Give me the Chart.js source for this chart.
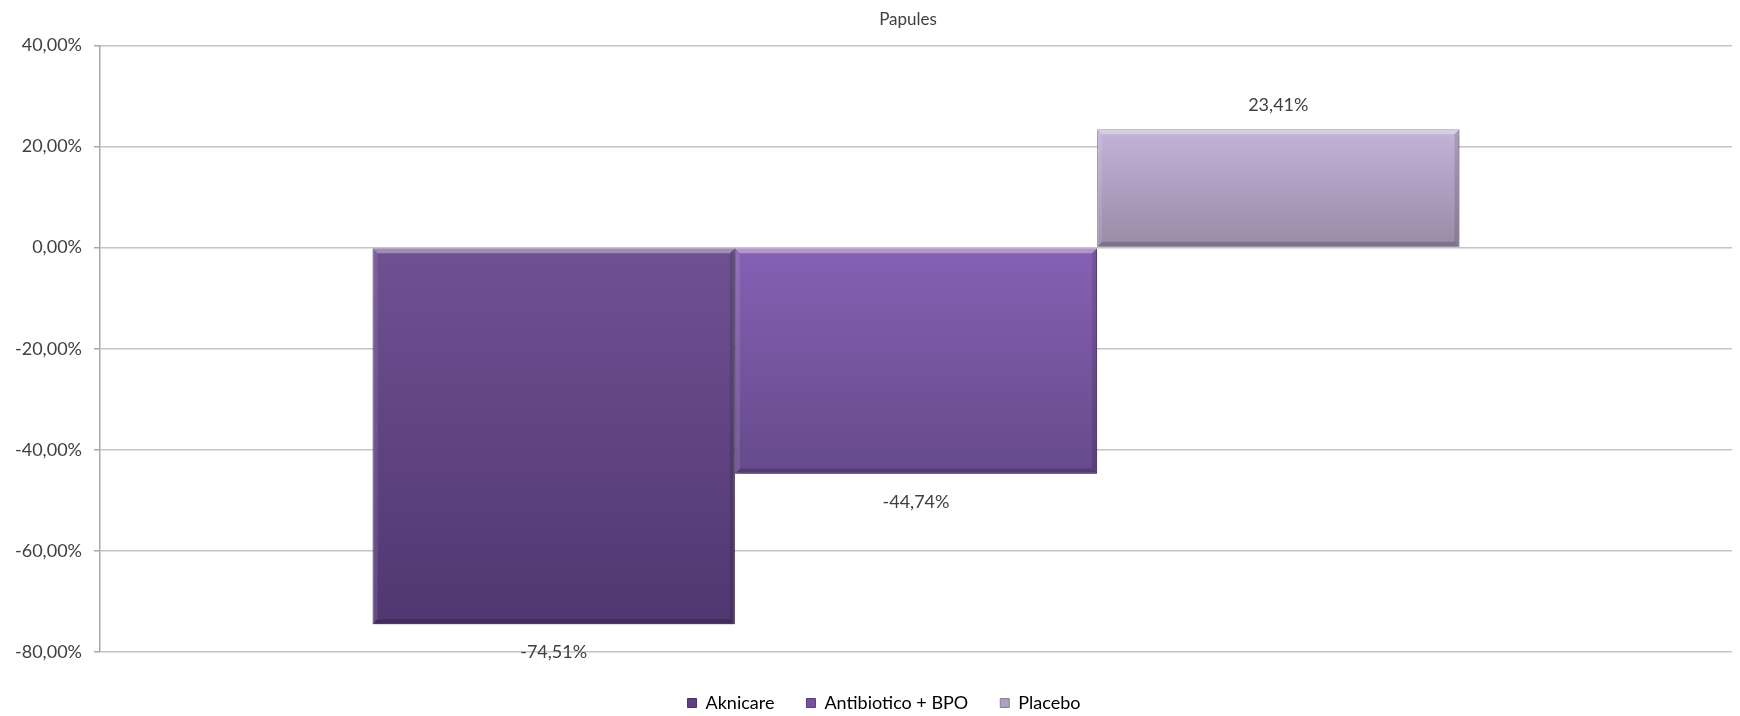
<!DOCTYPE html>
<html>
<head>
<meta charset="utf-8">
<script src="https://cdn.jsdelivr.net/npm/chart.js@4.4.0/dist/chart.umd.min.js"></script>
<style>
  html, body { margin: 0; padding: 0; background: #fff; }
  #wrap { width: 1740px; height: 716px; }
</style>
</head>
<body>
<div id="wrap"><canvas id="chart"></canvas></div>
<script>
const title = 'Papules';
const categories = [''];
const seriesNames = ['Aknicare', 'Antibiotico + BPO', 'Placebo'];
const seriesValues = [-74.51, -44.74, 23.41];
const yTicks = { min: -80, max: 40, step: 20 };

const topColors = ['#6f5192', '#8760b4', '#c3b3d9'];
const bottomColors = ['#503771', '#654a8b', '#998aa6'];
const edgeColors = ['#4a3266', '#563d78', '#8b7d98'];
const legendColors = ['#5e4280', '#7752a0', '#b0a0c4'];

const fmt = v => v.toFixed(2).replace('.', ',') + '%';
const font = 'Lato, "Open Sans", sans-serif';

function barGradient(i) {
  return function(ctx) {
    const chart = ctx.chart;
    const y = chart.scales.y;
    if (!chart.chartArea || !y) return topColors[i];
    const p0 = y.getPixelForValue(0);
    const p1 = y.getPixelForValue(seriesValues[i]);
    const top = Math.min(p0, p1), bottom = Math.max(p0, p1);
    const g = chart.ctx.createLinearGradient(0, top, 0, bottom);
    g.addColorStop(0, topColors[i]);
    g.addColorStop(1, bottomColors[i]);
    return g;
  };
}

// soft bevel on each bar, Excel style
const bevel = {
  id: 'bevel',
  afterDatasetsDraw(chart) {
    const ctx = chart.ctx;
    ctx.save();
    chart.data.datasets.forEach((ds, i) => {
      const b = chart.getDatasetMeta(i).data[0];
      const l = b.x - b.width / 2, r = b.x + b.width / 2;
      const t = Math.min(b.y, b.base), bt = Math.max(b.y, b.base);
      const d = 5;
      ctx.fillStyle = 'rgba(255,255,255,0.35)';
      ctx.beginPath();
      ctx.moveTo(l, t); ctx.lineTo(r, t); ctx.lineTo(r - d, t + d); ctx.lineTo(l + d, t + d);
      ctx.fill();
      ctx.fillStyle = 'rgba(255,255,255,0.10)';
      ctx.beginPath();
      ctx.moveTo(l, t); ctx.lineTo(l + d, t + d); ctx.lineTo(l + d, bt - d); ctx.lineTo(l, bt);
      ctx.fill();
      ctx.fillStyle = 'rgba(0,0,0,0.12)';
      ctx.beginPath();
      ctx.moveTo(r, t); ctx.lineTo(r - d, t + d); ctx.lineTo(r - d, bt - d); ctx.lineTo(r, bt);
      ctx.fill();
      ctx.fillStyle = 'rgba(0,0,0,0.18)';
      ctx.beginPath();
      ctx.moveTo(l, bt); ctx.lineTo(r, bt); ctx.lineTo(r - d, bt - d); ctx.lineTo(l + d, bt - d);
      ctx.fill();
    });
    ctx.restore();
  }
};

const valueLabels = {
  id: 'valueLabels',
  afterDatasetsDraw(chart) {
    const ctx = chart.ctx;
    ctx.save();
    ctx.font = '18px ' + font;
    ctx.fillStyle = '#404040';
    ctx.textAlign = 'center';
    ctx.textBaseline = 'middle';
    chart.data.datasets.forEach((ds, i) => {
      const bar = chart.getDatasetMeta(i).data[0];
      const v = ds.data[0];
      const y = v >= 0 ? bar.y - 24 : bar.y + 28;
      ctx.fillText(fmt(v), bar.x, y);
    });
    ctx.restore();
  }
};

const barShadow = {
  id: 'barShadow',
  beforeDatasetsDraw(chart) {
    chart.ctx.save();
    chart.ctx.shadowColor = 'rgba(0,0,0,0.3)';
    chart.ctx.shadowBlur = 5;
    chart.ctx.shadowOffsetX = 1;
    chart.ctx.shadowOffsetY = 2;
  },
  afterDatasetsDraw(chart) {
    chart.ctx.restore();
  }
};

// title and legend sit over the plot centre in the original, legend hugs the bottom
const blockShift = {
  id: 'blockShift',
  afterLayout(chart) {
    const lg = chart.legend, tb = chart.titleBlock;
    lg.top += 10; lg.bottom += 10;
    lg.left += 18; lg.right += 18;
    tb.left += 42; tb.right += 42;
  }
};

new Chart(document.getElementById('chart'), {
  type: 'bar',
  data: {
    labels: categories,
    datasets: seriesNames.map((name, i) => ({
      label: name,
      data: [seriesValues[i]],
      backgroundColor: barGradient(i),
      borderColor: edgeColors[i],
      borderWidth: 1
    }))
  },
  options: {
    responsive: true,
    maintainAspectRatio: false,
    animation: false,
    categoryPercentage: 0.666,
    barPercentage: 1,
    layout: { padding: { left: 0, right: 8, top: 0, bottom: 4 } },
    plugins: {
      title: {
        display: true,
        text: title,
        color: '#404040',
        font: { family: font, size: 17, weight: 'normal' },
        padding: { top: 9, bottom: 16 }
      },
      legend: {
        position: 'bottom',
        labels: {
          color: '#404040',
          font: { family: font, size: 18 },
          boxWidth: 9,
          boxHeight: 9,
          padding: 32,
          generateLabels: chart => seriesNames.map((n, i) => ({
            text: n,
            fillStyle: legendColors[i],
            strokeStyle: edgeColors[i],
            lineWidth: 1,
            datasetIndex: i
          }))
        }
      },
      tooltip: { enabled: false }
    },
    scales: {
      x: {
        display: false
      },
      y: {
        min: yTicks.min,
        max: yTicks.max,
        afterFit: s => { s.width = 100; },
        ticks: {
          stepSize: yTicks.step,
          color: '#404040',
          font: { family: font, size: 18 },
          padding: 12,
          callback: v => fmt(v)
        },
        grid: { color: '#c4c4c4', lineWidth: 1.5, tickLength: 6, tickColor: '#a8a8a8' },
        border: { color: '#a8a8a8', width: 1.5 }
      }
    }
  },
  plugins: [barShadow, bevel, valueLabels, blockShift]
});
</script>
</body>
</html>
